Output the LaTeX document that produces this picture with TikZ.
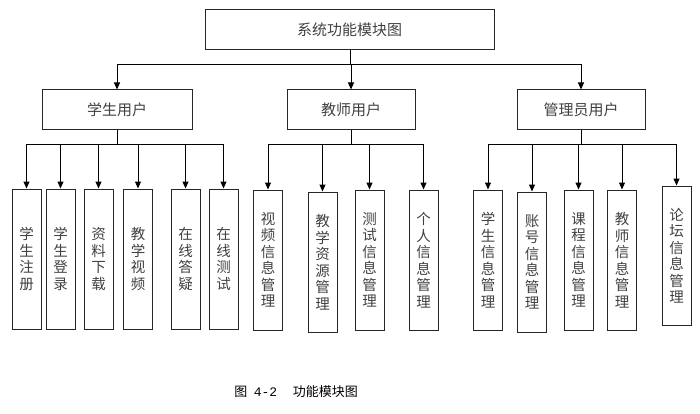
\documentclass[tikz,border=0pt]{standalone}
\usepackage{fontspec}
\newfontfamily\cjk{Noto Sans CJK SC}
\newfontfamily\monofam{Liberation Mono}
\usetikzlibrary{arrows.meta}
\tikzset{
  box/.style={draw=black!85, line width=1pt, inner sep=0pt, text=black!75},
  bigbox/.style={box, minimum height=40pt, font=\cjk\fontsize{15}{17}\selectfont},
  leafbox/.style={box, minimum width=29pt, minimum height=140pt, align=center, font=\cjk\fontsize{14.5}{16.5}\selectfont},
  link/.style={line width=1pt, draw=black},
  arr/.style={link, -{Triangle[length=7pt,width=6pt]}},
}
\begin{document}
\begin{tikzpicture}[x=1pt,y=-1pt]
\useasboundingbox (0,0) rectangle (700,414);
% top
\node[bigbox, minimum width=289pt] (top) at (349.5,30) {系统功能模块图};
% level 2
\node[bigbox, minimum width=150pt] (stu) at (117,110) {学生用户};
\node[bigbox, minimum width=128pt] (tea) at (351,110) {教师用户};
\node[bigbox, minimum width=128pt] (adm) at (581,110) {管理员用户};
% leaves student
\node[leafbox] (s1) at (26.5,259) {学\\生\\注\\册};
\node[leafbox] (s2) at (60.5,259) {学\\生\\登\\录};
\node[leafbox] (s3) at (98.5,259) {资\\料\\下\\载};
\node[leafbox] (s4) at (138,259) {教\\学\\视\\频};
\node[leafbox] (s5) at (185.5,259) {在\\线\\答\\疑};
\node[leafbox] (s6) at (223.5,259) {在\\线\\测\\试};
% leaves teacher
\node[leafbox] (t1) at (268,260) {视\\频\\信\\息\\管\\理};
\node[leafbox] (t2) at (322.5,262) {教\\学\\资\\源\\管\\理};
\node[leafbox] (t3) at (369.5,260) {测\\试\\信\\息\\管\\理};
\node[leafbox] (t4) at (423.5,260) {个\\人\\信\\息\\管\\理};
% leaves admin
\node[leafbox] (a1) at (488,260) {学\\生\\信\\息\\管\\理};
\node[leafbox] (a2) at (532,262) {账\\号\\信\\息\\管\\理};
\node[leafbox] (a3) at (578.5,260) {课\\程\\信\\息\\管\\理};
\node[leafbox] (a4) at (622,260) {教\\师\\信\\息\\管\\理};
\node[leafbox, minimum height=139pt] (a5) at (676.5,255.5) {论\\坛\\信\\息\\管\\理};
% top connectors
\coordinate (h0) at (350,65);
\draw[link] (top.south -| h0) -- (h0);
\draw[arr] (h0) -| (stu.north);
\draw[arr] (h0) -- (h0 -| tea.north) -- (tea.north);
\draw[arr] (h0) -| (adm.north);
% student bus
\coordinate (bs) at (117,145);
\draw[link] (stu.south) -- (bs);
\foreach \n in {s1,s2,s3,s4,s5,s6} \draw[arr] (bs) -| (\n.north);
% teacher bus
\coordinate (bt) at (351,145);
\draw[link] (tea.south) -- (bt);
\foreach \n in {t1,t2,t3,t4} \draw[arr] (bt) -| (\n.north);
% admin bus
\coordinate (ba) at (581,145);
\draw[link] (adm.south) -- (ba);
\foreach \n in {a1,a2,a3,a4,a5} \draw[arr] (ba) -| (\n.north);
% caption
\node[font=\cjk\fontsize{13}{15}\selectfont, text=black] (cap) at (296,392) {图\hspace{0.5em}{\monofam 4-2}\hspace{1.2em}功能模块图};
\end{tikzpicture}
\end{document}
